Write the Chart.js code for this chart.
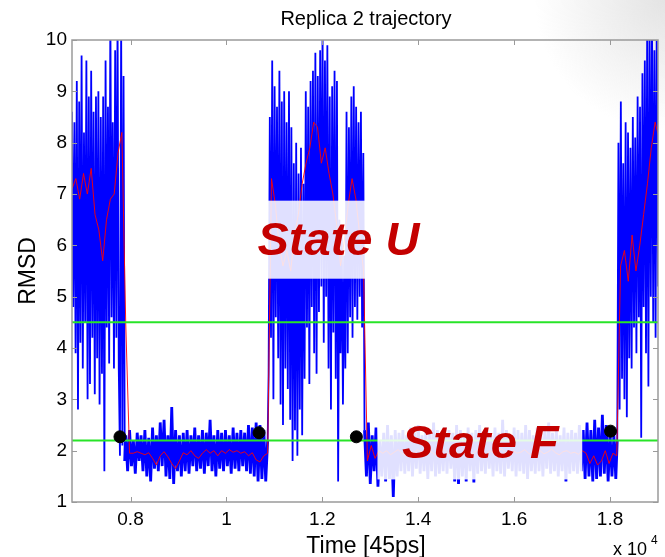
<!DOCTYPE html>
<html>
<head>
<meta charset="utf-8">
<title>Replica 2 trajectory</title>
<script src="https://cdn.jsdelivr.net/npm/chart.js@4.4.1/dist/chart.umd.min.js"></script>
<style>
    html, body { margin: 0; padding: 0; background: #fff; }
    #wrap { width: 665px; height: 557px; }
</style>
</head>
<body>
<div id="wrap"><canvas id="rmsdChart" width="665" height="557"></canvas></div>
<script>
// ---- data ----
// blue trajectory, in stretches: unfolded (U) / folded (F), sampled every dt time units
const unfolded1Start = 6780, unfolded1Step = 25;
const unfolded1Rmsd = [
    8.6, 4.8, 8.4, 3.9, 9.2, 2.8, 8.8, 4.1, 9.7, 3.6,
    8.2, 4.5, 9.6, 3.0, 8.9, 3.3, 9.4, 4.2, 8.6, 3.1,
    8.9, 3.8, 9.0, 2.9, 8.5, 3.5, 8.9, 1.6, 9.6, 4.4,
    8.7, 3.7, 10.6, 4.6, 8.4, 3.6, 9.8, 4.2, 10.5, 3.6,
    1.9, 10.4, 2.1, 9.3, 1.8
];

const folded1Start = 7900, folded1Step = 40;
const folded1Rmsd = [
    2.3, 1.6, 2.4, 1.7, 2.2, 1.55, 2.35, 1.8, 2.3, 1.6,
    2.4, 1.5, 2.25, 1.4, 2.45, 1.65, 2.3, 1.6, 2.55, 1.7,
    2.6, 1.5, 2.3, 1.45, 2.85, 1.35, 2.4, 1.6, 2.3, 1.5,
    2.35, 1.6, 2.4, 1.55, 2.3, 1.7, 2.45, 1.6, 2.3, 1.65,
    2.4, 1.55, 2.35, 1.7, 2.6, 1.6, 2.3, 1.5, 2.4, 1.65,
    2.35, 1.6, 2.4, 1.7, 2.3, 1.55, 2.45, 1.65, 2.35, 1.6,
    2.4, 1.7, 2.35, 1.6, 2.5, 1.55, 2.45, 1.5, 2.55, 1.4,
    2.5, 1.45, 2.4, 1.4, 2.2
];

const unfolded2Start = 10880, unfolded2Step = 25;
const unfolded2Rmsd = [
    3.5, 8.5, 4.2, 9.6, 3.0, 9.1, 4.6, 8.7, 3.8, 9.4,
    2.9, 8.8, 2.5, 9.0, 3.6, 8.4, 3.2, 9.0, 2.6, 8.3,
    1.8, 7.6, 2.4, 8.0, 1.9, 7.4, 2.8, 7.9, 2.3, 7.2,
    3.4, 9.0, 4.4, 8.7, 3.3, 9.2, 4.8, 9.4, 3.9, 9.75,
    3.5, 9.3, 4.7, 9.8, 5.2, 10.3, 4.1, 9.6, 5.0, 9.9,
    3.6, 8.9, 2.8, 9.1, 4.3, 9.4, 3.4, 9.2, 1.4, 6.5,
    3.9, 6.2, 2.9, 5.8, 3.6, 8.6, 3.9, 8.3, 4.6, 8.9,
    4.2, 9.1, 4.8, 8.7, 4.55, 8.4, 5.0, 8.6, 4.4, 7.8
];

const folded2Start = 12880, folded2Step = 40;
const folded2Rmsd = [
    2.4, 1.5, 2.55, 1.35, 2.3, 1.6, 2.45, 1.3, 2.2, 1.5,
    2.35, 1.4, 2.5, 1.45, 2.3, 1.1, 2.4, 1.5, 2.35, 1.6,
    2.4, 1.55, 2.3, 1.6, 2.45, 1.5, 2.35, 1.65, 2.5, 1.55,
    2.3, 1.6, 2.4, 1.45, 2.35, 1.6, 2.55, 1.5, 2.4, 1.55,
    2.3, 1.6, 2.45, 1.55, 2.4, 1.65, 2.35, 1.4, 2.5, 1.35,
    2.4, 1.5, 2.3, 1.4, 2.45, 1.6, 2.35, 1.38, 2.4, 1.55,
    2.5, 1.6, 2.35, 1.55, 2.4, 1.65, 2.3, 1.5, 2.45, 1.6,
    2.35, 1.55, 2.6, 1.5, 2.4, 1.65, 2.3, 1.6, 2.45, 1.5,
    2.4, 1.6, 2.35, 1.55, 2.5, 1.45, 2.4, 1.6, 2.3, 1.55,
    2.45, 1.6, 2.35, 1.5, 2.4, 1.65, 2.55, 1.55, 2.35, 1.6,
    2.4, 1.5, 2.3, 1.6, 2.45, 1.4, 2.35, 1.55, 2.4, 1.6,
    2.35, 1.55, 2.5, 1.6, 2.4, 1.45, 2.55, 1.5, 2.4, 1.4,
    2.6, 1.45, 2.45, 1.5, 2.7, 1.55, 2.5, 1.4, 2.35, 1.5,
    2.3, 1.45
];

const unfolded3Start = 18150, unfolded3Step = 25;
const unfolded3Rmsd = [
    2.2, 8.0, 2.8, 8.8, 3.4, 7.6, 3.0, 8.4, 2.65, 8.2,
    3.8, 7.9, 3.6, 8.5, 4.4, 8.1, 3.9, 8.9, 4.6, 8.7,
    2.25, 9.35, 4.8, 9.6, 3.9, 10.4, 3.25, 10.2, 5.0, 10.5,
    4.5, 9.8, 4.2, 10.6, 5.2
];

// red running average
const smoothStart = 6780, smoothStep = 80;
const smoothRmsd = [
    7.1, 7.3, 6.9, 7.4, 7.0, 7.5, 6.6, 6.3, 5.7, 6.5, 6.9, 7.0, 7.8, 8.2, 4.5, 1.95,
    1.95, 1.98, 1.95, 1.92, 1.96, 1.85, 1.72, 1.9, 1.98, 1.88, 1.75, 1.65, 1.8, 1.96, 1.92, 2.0,
    1.9, 1.85, 1.95, 2.02, 1.95, 2.0, 1.9, 2.0, 1.95, 2.02, 1.97, 2.0, 1.95, 1.98, 1.9, 1.96,
    1.82, 1.78, 1.9, 1.95,
    7.3, 6.8, 6.0, 5.6, 5.9, 5.5, 6.2, 6.6, 7.2, 7.6, 7.9, 8.4, 8.3, 7.6, 7.9, 7.4,
    7.0, 6.4, 5.6, 6.1, 6.8, 7.3, 6.9, 6.2, 5.5,
    1.8, 2.1, 1.85, 2.0, 1.95, 2.0, 1.92, 1.97, 2.02, 1.95,
    1.9, 2.0, 1.95, 2.02, 1.98, 1.93, 2.0, 1.96, 1.9, 1.97,
    2.02, 1.95, 1.92, 1.98, 1.9, 1.95, 2.0, 1.93, 1.97, 2.03,
    1.96, 1.92, 2.0, 1.95, 1.98, 2.04, 1.96, 1.93, 2.0, 1.95,
    1.97, 2.02, 1.95, 1.9, 1.98, 2.0, 1.94, 1.97, 2.03, 1.96,
    1.92, 1.98, 2.0, 1.95, 1.97, 1.93, 2.0, 1.95, 1.75, 1.9,
    1.72, 1.8, 2.0, 1.75, 1.95, 1.9,
    5.6, 5.9, 5.3, 6.2, 5.5, 6.0, 6.6, 7.2, 7.9, 8.4, 8.1
];

// state thresholds (green) and transition markers (black)
const thresholdLevels = [4.5, 2.2];
const eventTimes = [7780, 10680, 12710, 18010];
const eventRmsd = [2.27, 2.35, 2.27, 2.38];

// axes
const timeMin = 6780, timeMax = 19000;
const timeTicks = [8000, 10000, 12000, 14000, 16000, 18000];
const timeTickLabels = ['0.8', '1', '1.2', '1.4', '1.6', '1.8'];
const rmsdTicks = [1, 2, 3, 4, 5, 6, 7, 8, 9, 10];

// ---- annotation layout (data units) ----
const stateLabels = [
    { text: 'State U', x: 10650, y: 5.81, box: [10490, 14450, 5.35, 6.87] },
    { text: 'State F', x: 13660, y: 1.86, box: [13150, 17420, 1.44, 2.75] }
];

const FONT = "'Liberation Sans', Arial, Helvetica, sans-serif";
const AXIS_GREY = '#9a9a9a';

function toPoints(t0, dt, values) {
    return values.map((v, i) => ({ x: t0 + i * dt, y: v }));
}

const trajectory = [].concat(
    toPoints(unfolded1Start, unfolded1Step, unfolded1Rmsd),
    toPoints(folded1Start, folded1Step, folded1Rmsd),
    toPoints(unfolded2Start, unfolded2Step, unfolded2Rmsd),
    toPoints(folded2Start, folded2Step, folded2Rmsd),
    toPoints(unfolded3Start, unfolded3Step, unfolded3Rmsd)
);
const smoothed = toPoints(smoothStart, smoothStep, smoothRmsd);
const events = eventTimes.map((t, i) => ({ x: t, y: eventRmsd[i] }));

const thresholdSets = thresholdLevels.map(level => ({
    label: 'RMSD ' + level,
    data: [{ x: timeMin, y: level }, { x: timeMax, y: level }],
    borderColor: 'rgb(40, 228, 40)',
    borderWidth: 2,
    pointRadius: 0,
    order: 1
}));

// frame, inward ticks, titles, washed label boxes
const figurePlugin = {
    id: 'figure',
    beforeDraw(chart) {
        const { ctx, width } = chart;
        // faint slide shading top right
        const g = ctx.createRadialGradient(width, 0, 0, width, 0, 130);
        g.addColorStop(0, 'rgba(205,205,205,0.55)');
        g.addColorStop(1, 'rgba(205,205,205,0)');
        ctx.save();
        ctx.fillStyle = g;
        ctx.fillRect(width - 140, 0, 140, 140);
        ctx.restore();
    },
    afterDatasetsDraw(chart) {
        const { ctx, scales: { x, y } } = chart;
        ctx.save();
        stateLabels.forEach(s => {
            const l = x.getPixelForValue(s.box[0]), r = x.getPixelForValue(s.box[1]);
            const t = y.getPixelForValue(s.box[3]), b = y.getPixelForValue(s.box[2]);
            ctx.fillStyle = 'rgba(255,255,255,0.88)';
            ctx.fillRect(l, t, r - l, b - t);
        });
        ctx.fillStyle = '#c40000';
        ctx.font = 'italic bold 47px ' + FONT;
        ctx.textAlign = 'left';
        ctx.textBaseline = 'alphabetic';
        stateLabels.forEach(s => {
            ctx.fillText(s.text, x.getPixelForValue(s.x), y.getPixelForValue(s.y));
        });
        ctx.restore();
    },
    afterDraw(chart) {
        const { ctx, chartArea: a, scales: { x, y } } = chart;
        const tick = 5;
        ctx.save();
        ctx.strokeStyle = AXIS_GREY;
        ctx.lineWidth = 1.5;
        ctx.strokeRect(a.left, a.top, a.right - a.left, a.bottom - a.top);
        ctx.lineWidth = 1;
        ctx.beginPath();
        timeTicks.forEach(v => {
            const px = Math.round(x.getPixelForValue(v)) + 0.5;
            ctx.moveTo(px, a.bottom); ctx.lineTo(px, a.bottom - tick);
            ctx.moveTo(px, a.top); ctx.lineTo(px, a.top + tick);
        });
        rmsdTicks.forEach(v => {
            const py = Math.round(y.getPixelForValue(v)) + 0.5;
            ctx.moveTo(a.left, py); ctx.lineTo(a.left + tick, py);
            ctx.moveTo(a.right, py); ctx.lineTo(a.right - tick, py);
        });
        ctx.stroke();

        ctx.fillStyle = '#000';
        ctx.textAlign = 'center';
        ctx.textBaseline = 'alphabetic';
        const midX = (a.left + a.right) / 2;
        ctx.font = '20px ' + FONT;
        ctx.fillText('Replica 2 trajectory', midX + 1, 24.5);
        ctx.font = '23px ' + FONT;
        ctx.fillText('Time [45ps]', midX + 1, 553);

        ctx.save();
        ctx.translate(35, (a.top + a.bottom) / 2);
        ctx.rotate(-Math.PI / 2);
        ctx.fillText('RMSD', 0, 0);
        ctx.restore();

        ctx.textAlign = 'left';
        ctx.font = '18px ' + FONT;
        ctx.fillText('x 10', 613, 555);
        ctx.font = '12px ' + FONT;
        ctx.fillText('4', 651, 544);
        ctx.restore();
    }
};

// folded stretches are sampled more coarsely, so give them a heavier stroke
const foldedWidth = ctx => (ctx.p0.parsed.y < 3 && ctx.p1.parsed.y < 3) ? 2.8 : 1.8;

const chart = new Chart(document.getElementById('rmsdChart'), {
    type: 'line',
    data: {
        datasets: [
            {
                type: 'scatter',
                label: 'Transitions',
                data: events,
                pointRadius: 6,
                pointBackgroundColor: '#000',
                pointBorderColor: '#000',
                order: 0
            },
            ...thresholdSets,
            {
                label: 'Running average',
                data: smoothed,
                borderColor: 'rgba(255, 0, 0, 0.9)',
                borderWidth: 1,
                pointRadius: 0,
                tension: 0,
                order: 2
            },
            {
                label: 'RMSD',
                data: trajectory,
                borderColor: '#0000ff',
                borderWidth: 1.8,
                segment: { borderWidth: foldedWidth },
                pointRadius: 0,
                tension: 0,
                order: 3
            }
        ]
    },
    options: {
        responsive: false,
        animation: false,
        events: [],
        layout: { padding: { top: 40, right: 6, left: 0, bottom: 0 } },
        plugins: {
            legend: { display: false },
            tooltip: { enabled: false },
            title: { display: false }
        },
        scales: {
            x: {
                type: 'linear',
                min: timeMin,
                max: timeMax,
                grid: { display: false, drawTicks: false },
                border: { display: false },
                afterBuildTicks: s => { s.ticks = timeTicks.map(v => ({ value: v })); },
                afterFit: s => { s.height = 55; },
                ticks: {
                    padding: 6,
                    color: '#000',
                    autoSkip: false,
                    maxRotation: 0,
                    font: { family: FONT, size: 19 },
                    callback: (v, i) => timeTickLabels[i]
                }
            },
            y: {
                type: 'linear',
                min: 1,
                max: 10,
                grid: { display: false, drawTicks: false },
                border: { display: false },
                afterBuildTicks: s => { s.ticks = rmsdTicks.map(v => ({ value: v })); },
                afterFit: s => { s.width = 72; },
                ticks: {
                    padding: 5,
                    color: '#000',
                    font: { family: FONT, size: 19 }
                }
            }
        }
    },
    plugins: [figurePlugin]
});
</script>
</body>
</html>
